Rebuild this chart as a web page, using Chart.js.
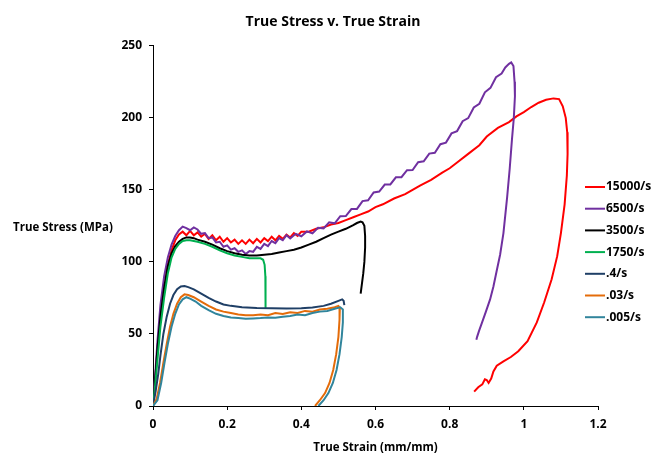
<!DOCTYPE html>
<html>
<head>
<meta charset="utf-8">
<script src="https://cdn.jsdelivr.net/npm/chart.js@4.4.0/dist/chart.umd.min.js"></script>
<style>
  body { margin: 0; background: #fff; }
  #wrap { width: 653px; height: 455px; }
</style>
</head>
<body>
<div id="wrap"><canvas id="stress-chart" width="653" height="455"></canvas></div>
<script>
// series names + colours, legend order
const seriesNames = ['15000/s', '6500/s', '3500/s', '1750/s', '.4/s', '.03/s', '.005/s'];
const seriesColors = ['#ff0000', '#7030a0', '#000000', '#00b050', '#1f3f66', '#e46c0a', '#31859c'];

const xTickLabels = ['0', '0.2', '0.4', '0.6', '0.8', '1', '1.2'];
const yTickLabels = ['0', '50', '100', '150', '200', '250'];

// 15000/s
const strain15000 = [0, 0.005, 0.012, 0.02, 0.03, 0.04, 0.05, 0.06, 0.07, 0.08, 0.09, 0.1, 0.11, 0.12, 0.13, 0.14, 0.15, 0.16, 0.17, 0.18, 0.19, 0.2, 0.21, 0.22, 0.23, 0.24, 0.25, 0.26, 0.27, 0.28, 0.29, 0.3, 0.31, 0.32, 0.33, 0.34, 0.35, 0.36, 0.37, 0.38, 0.39, 0.4, 0.42, 0.44, 0.46, 0.48, 0.5, 0.52, 0.54, 0.56, 0.58, 0.6, 0.62, 0.65, 0.68, 0.7, 0.72, 0.75, 0.78, 0.8, 0.82, 0.85, 0.88, 0.9, 0.93, 0.96, 0.98, 1.0, 1.02, 1.04, 1.06, 1.08, 1.095, 1.105, 1.113, 1.117, 1.118, 1.116, 1.11, 1.1, 1.09, 1.075, 1.055, 1.035, 1.01, 0.985, 0.965, 0.945, 0.927, 0.918, 0.912, 0.905, 0.9, 0.895, 0.888, 0.877, 0.866];
const stress15000 = [0, 15, 40, 62, 80, 98, 108, 115, 119, 121, 118.5, 121.5, 118.5, 120.5, 117.5, 119.5, 116, 118.5, 115, 117.5, 114, 116.5, 113.5, 115.5, 112.5, 115, 112.5, 115.5, 113, 116, 113.5, 116.5, 114.5, 117.5, 115, 118, 116, 119, 117, 120, 118, 121, 121, 123, 124, 126, 127, 129, 131, 133, 135, 138, 140, 144, 147, 150, 153, 157, 162, 165, 169, 175, 181, 187, 193, 197, 201, 204, 207.5, 210.5, 212.5, 213.5, 213, 208, 200, 190, 175, 160, 140, 120, 104, 88, 72, 58, 45, 38, 34, 31, 28, 24, 19, 16, 18, 18.5, 15, 13, 10];

// 6500/s
const strain6500 = [0, 0.005, 0.012, 0.02, 0.03, 0.04, 0.05, 0.06, 0.07, 0.08, 0.09, 0.1, 0.11, 0.12, 0.13, 0.14, 0.15, 0.16, 0.17, 0.18, 0.19, 0.2, 0.21, 0.22, 0.23, 0.24, 0.25, 0.26, 0.27, 0.28, 0.29, 0.3, 0.31, 0.32, 0.33, 0.34, 0.35, 0.36, 0.37, 0.385, 0.4, 0.415, 0.43, 0.445, 0.46, 0.475, 0.49, 0.505, 0.52, 0.535, 0.55, 0.565, 0.58, 0.595, 0.61, 0.625, 0.64, 0.655, 0.67, 0.685, 0.7, 0.715, 0.73, 0.745, 0.76, 0.775, 0.79, 0.805, 0.82, 0.835, 0.85, 0.865, 0.88, 0.895, 0.91, 0.925, 0.94, 0.95, 0.96, 0.966, 0.972, 0.975, 0.976, 0.973, 0.968, 0.962, 0.955, 0.945, 0.936, 0.927, 0.918, 0.909, 0.897, 0.886, 0.879, 0.874, 0.872];
const stress6500 = [0, 18, 45, 70, 90, 103, 112, 118, 122, 124.5, 123.5, 122, 124, 122.5, 119.5, 120, 116.5, 117, 113.5, 114, 110.5, 111.5, 108.5, 109.5, 107, 108, 105.5, 107.5, 107, 110.5, 109, 112.5, 111, 114.5, 113, 116.5, 115, 118.5, 116.3, 119.5, 117.8, 121.2, 119.8, 123.7, 123.3, 127.5, 126.8, 131.7, 131.8, 136.7, 136.8, 142.2, 142.8, 148.2, 148.8, 153.7, 153.8, 158.7, 158.8, 163.7, 163.8, 169.2, 169.8, 175.2, 175.8, 181.7, 182.8, 189.2, 190.8, 197.7, 199.8, 207.2, 209.8, 217.7, 220.8, 228.2, 230.8, 235, 237.5, 238.5, 236, 225, 215, 200, 185, 165, 145, 120, 105, 94, 83, 74, 65, 57, 52, 48, 46];

// 3500/s
const strain3500 = [0, 0.005, 0.012, 0.02, 0.03, 0.04, 0.05, 0.06, 0.07, 0.08, 0.09, 0.1, 0.11, 0.12, 0.14, 0.16, 0.18, 0.2, 0.22, 0.24, 0.26, 0.28, 0.3, 0.32, 0.34, 0.36, 0.38, 0.4, 0.42, 0.44, 0.46, 0.48, 0.5, 0.52, 0.54, 0.55, 0.56, 0.565, 0.57, 0.572, 0.572, 0.57, 0.567, 0.563, 0.56];
const stress3500 = [0, 15, 40, 62, 82, 97, 106, 111, 114, 116, 117, 117, 116.5, 115.5, 114, 112, 109.5, 107.5, 106, 105, 104.5, 104.5, 105, 105.5, 106.5, 107.5, 108.5, 110, 112, 114, 116.5, 119, 121, 123, 125.5, 127, 128, 127.5, 125, 118, 110, 100, 92, 84, 78];

// 1750/s
const strain1750 = [0, 0.005, 0.012, 0.02, 0.03, 0.04, 0.05, 0.06, 0.07, 0.08, 0.09, 0.1, 0.11, 0.12, 0.14, 0.16, 0.18, 0.2, 0.22, 0.24, 0.26, 0.28, 0.29, 0.297, 0.301, 0.303, 0.304, 0.303];
const stress1750 = [0, 12, 32, 55, 75, 92, 103, 109, 112.5, 114.5, 115, 115, 114.5, 114, 112.5, 110.5, 108, 106, 104.5, 103.5, 102.5, 102.5, 102.5, 101.5, 98, 90, 80, 68];

// .4/s
const strain04 = [0, 0.007, 0.014, 0.02, 0.028, 0.037, 0.046, 0.055, 0.065, 0.075, 0.085, 0.095, 0.11, 0.13, 0.15, 0.17, 0.19, 0.21, 0.24, 0.28, 0.32, 0.36, 0.4, 0.43, 0.46, 0.48, 0.5, 0.51, 0.514, 0.516];
const stress04 = [0, 10, 22, 35, 50, 62, 71, 77, 81, 83, 83.3, 82.5, 81, 78, 75, 72.5, 70.5, 69.5, 68.5, 68, 67.8, 67.6, 67.8, 68.3, 69.5, 71, 73, 74, 73, 70];

// .03/s
const strain003 = [0, 0.01, 0.019, 0.028, 0.037, 0.046, 0.055, 0.065, 0.075, 0.085, 0.095, 0.11, 0.13, 0.15, 0.17, 0.19, 0.21, 0.23, 0.25, 0.27, 0.29, 0.31, 0.33, 0.35, 0.37, 0.39, 0.41, 0.43, 0.45, 0.47, 0.49, 0.5, 0.504, 0.503, 0.5, 0.494, 0.486, 0.476, 0.464, 0.45, 0.437];
const stress003 = [0, 5, 16, 30, 43, 55, 64, 71, 75.5, 77.5, 77, 75.5, 72.5, 69.5, 67, 65.5, 64.5, 63.5, 63, 63, 63.5, 63, 64.5, 63.8, 65, 64.5, 66, 65.5, 67, 67.5, 68.5, 69.5, 68, 60, 48, 36, 25, 16, 9, 4, 0];

// .005/s
const strain0005 = [0, 0.012, 0.022, 0.031, 0.04, 0.05, 0.06, 0.07, 0.08, 0.09, 0.1, 0.115, 0.13, 0.15, 0.17, 0.19, 0.21, 0.23, 0.25, 0.27, 0.29, 0.31, 0.33, 0.35, 0.37, 0.39, 0.41, 0.43, 0.45, 0.47, 0.49, 0.505, 0.512, 0.512, 0.509, 0.503, 0.495, 0.485, 0.473, 0.46, 0.446];
const stress0005 = [0, 4, 16, 30, 43, 55, 64, 70.5, 74, 75.5, 74.5, 72.5, 69.5, 66.5, 64, 62.5, 61.5, 61, 60.5, 60.8, 61, 61.5, 61.2, 62, 62.5, 63.5, 63, 64.5, 65.5, 66, 67.5, 68.5, 67, 58, 48, 36, 25, 16, 9, 4, 0];

const strainData = [strain15000, strain6500, strain3500, strain1750, strain04, strain003, strain0005];
const stressData = [stress15000, stress6500, stress3500, stress1750, stress04, stress003, stress0005];

const FONT = '"Open Sans"';

const datasets = seriesNames.map((name, i) => ({
  label: name,
  data: strainData[i].map((x, j) => ({ x: x, y: stressData[i][j] })),
  showLine: true,
  borderColor: seriesColors[i],
  backgroundColor: seriesColors[i],
  borderWidth: 2,
  pointRadius: 0,
  tension: 0,
  order: seriesNames.length - i,
}));

// y title sits flat on the left, legend floats on the right edge
const extraText = {
  id: 'extraText',
  afterDraw(chart) {
    const ctx = chart.ctx;
    const area = chart.chartArea;
    ctx.save();
    ctx.fillStyle = '#000';
    ctx.textBaseline = 'middle';
    ctx.textAlign = 'left';
    ctx.font = 'bold 11.5px ' + FONT;
    ctx.fillText('True Stress (MPa)', 13, 228);
    ctx.font = 'bold 12px ' + FONT;
    seriesNames.forEach((name, i) => {
      const y = 187 + i * 21.7;
      const x0 = area.right - 13;
      ctx.strokeStyle = seriesColors[i];
      ctx.lineWidth = 2;
      ctx.beginPath();
      ctx.moveTo(x0, y);
      ctx.lineTo(x0 + 20, y);
      ctx.stroke();
      ctx.fillText(name, x0 + 21, y);
    });
    ctx.restore();
  }
};

const axisBase = {
  type: 'linear',
  border: { display: true, color: '#000', width: 1 },
  grid: { drawOnChartArea: false, drawTicks: true, tickLength: 4, color: '#000' },
};

const config = {
  type: 'scatter',
  data: { datasets: datasets },
  options: {
    responsive: false,
    animation: false,
    layout: { padding: { left: 68, right: 55, top: 0, bottom: 0 } },
    plugins: {
      legend: { display: false },
      tooltip: { enabled: false },
      title: {
        display: true,
        text: 'True Stress v. True Strain',
        color: '#000',
        font: { family: FONT, size: 14, weight: 'bold' },
        padding: { top: 14, bottom: 15 },
      },
    },
    scales: {
      x: {
        ...axisBase,
        min: 0, max: 1.2,
        afterFit: (s) => { s.height = 49; },
        ticks: {
          stepSize: 0.2, padding: 7, color: '#000',
          font: { family: FONT, size: 12, weight: 'bold' },
          callback: (v, i) => xTickLabels[i],
        },
        title: {
          display: true, text: 'True Strain (mm/mm)', color: '#000',
          font: { family: FONT, size: 11.5, weight: 'bold' },
          padding: { top: 4, bottom: 0 },
        },
      },
      y: {
        ...axisBase,
        min: 0, max: 250,
        afterFit: (s) => { s.width = 85; },
        ticks: {
          stepSize: 50, padding: 7, color: '#000',
          font: { family: FONT, size: 12, weight: 'bold' },
          callback: (v, i) => yTickLabels[i],
        },
      },
    },
  },
  plugins: [extraText],
};

const stressChart = new Chart(document.querySelector('#stress-chart'), config);
</script>
</body>
</html>
